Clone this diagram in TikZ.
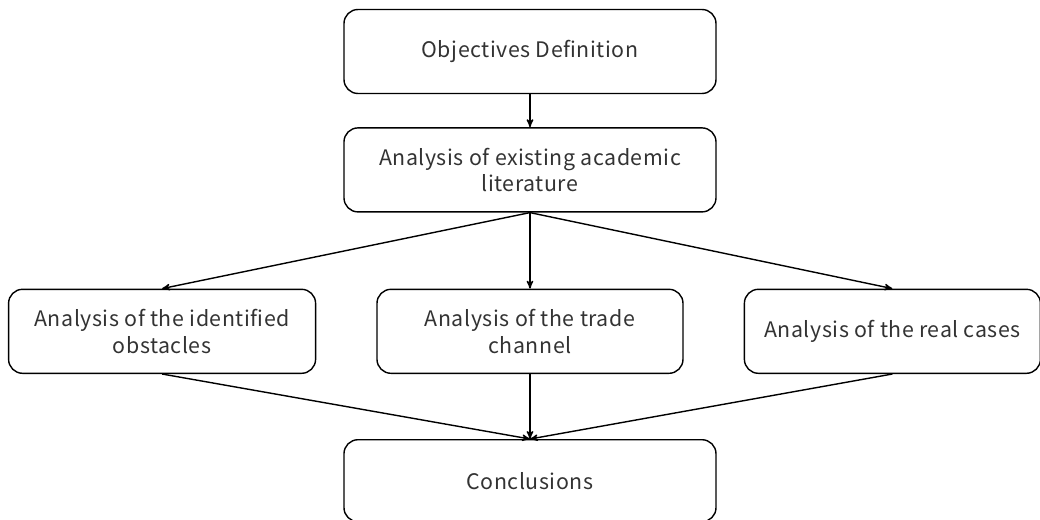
\documentclass[tikz,border=0pt]{standalone}
\usepackage{fontspec}
\setmainfont{Noto Sans CJK JP}[LetterSpace=2.5]
\usetikzlibrary{arrows,positioning}

\begin{document}
\begin{tikzpicture}[->,>=stealth',shorten >=0pt,node distance=1.9cm,
  line width=1pt,
  step box/.style={rectangle,rounded corners=0.35cm,draw,align=center,
    minimum height=2.1cm,text=black!80,font=\fontsize{15.2}{19}\selectfont}]

  \useasboundingbox (-13.25,1.2875) rectangle (12.75,-11.7125);

  \node[step box,minimum width=9.3cm] (obj) at (0,0) {Objectives Definition};
  \node[step box,minimum width=9.3cm] (lit) [below=0.825cm of obj] {Analysis of existing academic\\literature};
  \node[step box,minimum width=7.65cm] (trade) [below=of lit] {Analysis of the trade\\channel};
  \node[step box,minimum width=7.675cm] (obst) [left=1.5cm of trade] {Analysis of the identified\\obstacles};
  \node[step box,minimum width=7.4cm] (cases) [right=1.5cm of trade] {Analysis of the real cases};
  \node[step box,minimum width=9.3cm,minimum height=2.05cm] (concl) [below=1.625cm of trade] {Conclusions};

  \path
    (obj) edge (lit)
    (lit.south) edge (obst.north)
    (lit.south) edge (trade.north)
    (lit.south) edge (cases.north)
    (obst.south) edge (concl.north)
    (trade.south) edge (concl.north)
    (cases.south) edge (concl.north);
\end{tikzpicture}
\end{document}
